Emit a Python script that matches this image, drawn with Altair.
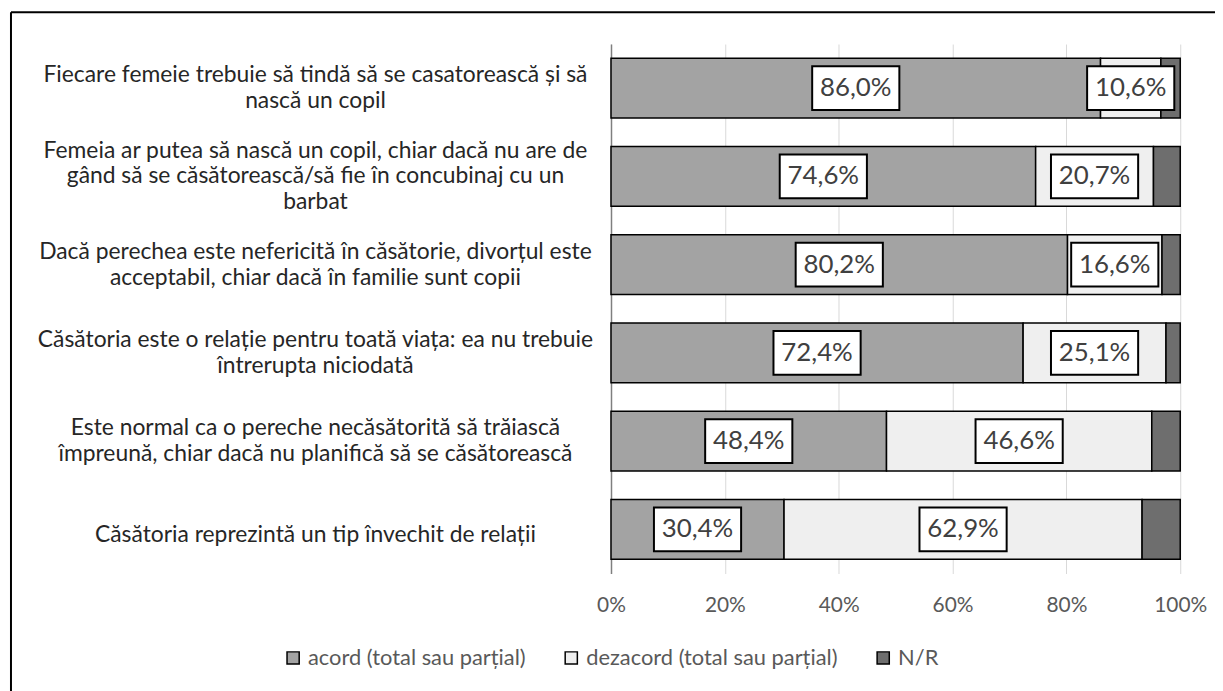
import altair as alt
import pandas as pd

categories = [
    "Fiecare femeie trebuie să tindă să se casatorească și să\nnască un copil",
    "Femeia ar putea să nască un copil, chiar dacă nu are de\ngând să se căsătorească/să fie în concubinaj cu un\nbarbat",
    "Dacă perechea este nefericită în căsătorie, divorțul este\nacceptabil, chiar dacă în familie sunt copii",
    "Căsătoria este o relație pentru toată viața: ea nu trebuie\nîntrerupta niciodată",
    "Este normal ca o pereche necăsătorită să trăiască\nîmpreună, chiar dacă nu planifică să se căsătorească",
    "Căsătoria reprezintă un tip învechit de relații",
]
series = ["acord (total sau parțial)", "dezacord (total sau parțial)", "N/R"]
acord = [86.0, 74.6, 80.2, 72.4, 48.4, 30.4]
dezacord = [10.6, 20.7, 16.6, 25.1, 46.6, 62.9]
nr = [3.4, 4.7, 3.2, 2.5, 5.0, 6.7]
x_ticks = [0, 20, 40, 60, 80, 100]
fills = ["#a3a3a3", "#efefef", "#6e6e6e"]

rows = []
for i, c in enumerate(categories):
    for j, vals in enumerate([acord, dezacord, nr]):
        rows.append({"cat": c, "series": series[j], "order": j, "value": vals[i]})
df = pd.DataFrame(rows)

FONT = "Lato"
LH = 26

base = alt.Chart(df).transform_stack(
    stack="value", groupby=["cat"], as_=["x0", "x1"],
    sort=[alt.SortField("order", order="ascending")]
).transform_calculate(
    mid="(datum.x0 + datum.x1) / 2",
    lab="replace(format(datum.value, '.1f'), '.', ',') + '%'"
)

label_offset = {
    "condition": [
        {"test": "length(split(datum.label, '\\n')) == 3", "value": -LH},
        {"test": "length(split(datum.label, '\\n')) == 2", "value": -LH / 2},
    ],
    "value": 6,
}

y_enc = alt.Y(
    "cat:N", sort=categories,
    scale=alt.Scale(paddingInner=0.324, paddingOuter=0.162),
    axis=alt.Axis(
        title=None, labelExpr="split(datum.label, '\\n')", labelAlign="center",
        labelPadding=298, labelLimit=0, ticks=False, tickSize=0, domain=True,
        domainColor="#7f7f7f", domainWidth=1.5, labelFont=FONT, labelFontSize=23,
        labelColor="#262626", labelLineHeight=LH, labelOffset=label_offset,
    ),
)
x_scale = alt.Scale(domain=[0, 100], nice=False)

bars = base.mark_bar(stroke="black", strokeWidth=1.5).encode(
    x=alt.X("x0:Q", scale=x_scale, axis=alt.Axis(
        title=None, values=x_ticks, labelExpr="datum.value + '%'", grid=True,
        gridColor="#d9d9d9", gridWidth=1, domain=False, ticks=False, labelPadding=21,
        labelFlush=False, labelFont=FONT, labelFontSize=21, labelColor="#595959")),
    x2="x1:Q",
    y=y_enc,
    fill=alt.Fill("series:N", scale=alt.Scale(domain=series, range=fills), legend=alt.Legend(
        title=None, orient="none", legendX=-331, legendY=607, direction="horizontal",
        symbolType="square", symbolSize=150, symbolStrokeColor="black", symbolStrokeWidth=1.5,
        labelFont=FONT, labelFontSize=22, labelColor="#595959", columnPadding=34,
        labelOffset=4, labelLimit=0)),
    order=alt.Order("order:Q"),
)

boxes = base.transform_filter("datum.order < 2").mark_point(
    shape="M-1,-0.5H1V0.5H-1Z", size=7700, filled=True, fill="white",
    stroke="black", strokeWidth=2, opacity=1
).encode(x=alt.X("mid:Q", scale=x_scale), y=alt.Y("cat:N", sort=categories))

labels = base.transform_filter("datum.order < 2").mark_text(
    font=FONT, fontSize=26, color="#404040"
).encode(x=alt.X("mid:Q", scale=x_scale), y=alt.Y("cat:N", sort=categories), text="lab:N")

frame_df = pd.DataFrame({"k": [0]})
frame_top = alt.Chart(frame_df).mark_rule(color="black", strokeWidth=2).encode(
    x=alt.value(-604), x2=alt.value(700), y=alt.value(-32))
frame_left = alt.Chart(frame_df).mark_rule(color="black", strokeWidth=2).encode(
    x=alt.value(-604), y=alt.value(-32), y2=alt.value(700))

chart = alt.layer(bars, boxes, labels, frame_top, frame_left).properties(
    width=573, height=533,
    padding={"left": 607, "top": 34, "right": 35, "bottom": 116},
    autosize="none",
).configure_view(stroke=None)

chart.save("out.html", embed_options={"renderer": "svg", "actions": False})
